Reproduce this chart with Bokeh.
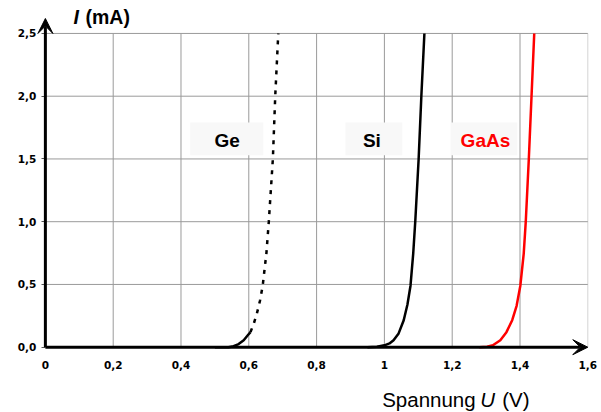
from bokeh.plotting import figure
from bokeh.models import Range1d, FixedTicker, Arrow, VeeHead, Label, ColumnDataSource
from bokeh.core.properties import value
from bokeh.embed import file_html
from bokeh.resources import INLINE

# ---- data ----
u_ticks = [0.0, 0.2, 0.4, 0.6, 0.8, 1.0, 1.2, 1.4, 1.6]
u_tick_labels = ["0", "0,2", "0,4", "0,6", "0,8", "1", "1,2", "1,4", "1,6"]
i_ticks = [0.0, 0.5, 1.0, 1.5, 2.0, 2.5]
i_tick_labels = ["0,0", "0,5", "1,0", "1,5", "2,0", "2,5"]

ge_solid_u = [0.50, 0.540, 0.555, 0.570, 0.585, 0.597, 0.605]
ge_solid_i = [0.0, 0.0, 0.008, 0.025, 0.055, 0.095, 0.120]
ge_dash_u = [0.605, 0.615, 0.624, 0.633, 0.641, 0.652, 0.659, 0.671, 0.678, 0.687]
ge_dash_i = [0.120, 0.19, 0.27, 0.37, 0.49, 0.75, 1.0, 1.5, 2.0, 2.5]

si_u = [0.95, 0.978, 1.000, 1.015, 1.027, 1.042, 1.057, 1.068, 1.077, 1.085, 1.091, 1.101, 1.109, 1.118]
si_i = [0.0, 0.003, 0.015, 0.030, 0.056, 0.110, 0.215, 0.340, 0.49, 0.746, 1.0, 1.5, 2.0, 2.5]

gaas_u = [1.28, 1.303, 1.320, 1.342, 1.360, 1.377, 1.390, 1.401, 1.411, 1.417, 1.426, 1.434, 1.442]
gaas_i = [0.0, 0.003, 0.015, 0.056, 0.120, 0.215, 0.330, 0.49, 0.746, 1.0, 1.5, 2.0, 2.5]

materials = ["Ge", "Si", "GaAs"]
material_colors = ["#000000", "#000000", "#ff0000"]

# ---- figure: the frame covers the whole canvas, axes are fixed at 0 ----
p = figure(width=601, height=412, output_backend="svg", toolbar_location=None,
           x_range=Range1d(-0.1324, 1.6404), y_range=Range1d(-0.5203, 2.7625),
           min_border_left=0, min_border_right=0, min_border_top=0, min_border_bottom=0)
p.outline_line_color = None
p.xgrid.visible = False
p.ygrid.visible = False
p.background_fill_color = "white"
p.border_fill_color = "white"

p.xaxis.fixed_location = 0
p.yaxis.fixed_location = 0
p.xaxis.ticker = FixedTicker(ticks=u_ticks)
p.xaxis.major_label_overrides = {t: l for t, l in zip(u_ticks, u_tick_labels)}
p.yaxis.ticker = FixedTicker(ticks=i_ticks)
p.yaxis.major_label_overrides = {t: l for t, l in zip(i_ticks, i_tick_labels)}
for ax in (p.xaxis, p.yaxis):
    ax.axis_line_color = None
    ax.minor_tick_line_color = None
    ax.major_label_text_font = "DejaVu Sans"
    ax.major_label_text_font_style = "bold"
    ax.major_label_text_font_size = "10.5px"
    ax.major_label_text_color = "#000000"
p.xaxis.major_tick_out = 0
p.xaxis.major_tick_in = 0
p.xaxis.major_tick_line_color = None
p.xaxis.major_label_standoff = 14
p.yaxis.major_tick_out = 4
p.yaxis.major_tick_in = 0
p.yaxis.major_tick_line_color = "#555555"
p.yaxis.major_label_standoff = 5

# grid lines (bounded to the data area)
grid_color = "#9a9a9a"
p.segment(x0=u_ticks[1:-1], y0=0, x1=u_ticks[1:-1], y1=i_ticks[-1], line_color=grid_color, line_width=1)
p.segment(x0=u_ticks[-1:], y0=0, x1=u_ticks[-1:], y1=i_ticks[-1], line_color="#d4d4d4", line_width=1)
p.segment(x0=0, y0=i_ticks[1:], x1=u_ticks[-1], y1=i_ticks[1:], line_color=grid_color, line_width=1)

# label background boxes
p.quad(left=[0.427, 0.885, 1.195], right=[0.643, 1.053, 1.392], bottom=1.53, top=1.79,
       fill_color="#f8f8f8", line_color=None)

# curves
p.line(ge_solid_u, ge_solid_i, line_color="black", line_width=2.5)
p.line(ge_dash_u, ge_dash_i, line_color="black", line_width=2.5, line_dash="4 6")
p.line(si_u, si_i, line_color="black", line_width=2.5)
p.line(gaas_u, gaas_i, line_color="#ff0000", line_width=2.5)

# material labels
src = ColumnDataSource(dict(x=[0.536, 0.963, 1.298], y=[1.648, 1.648, 1.648],
                            text=materials, color=material_colors))
p.text(x="x", y="y", text="text", text_color="color", source=src,
       text_font=value("Liberation Sans"), text_font_style="bold", text_font_size="19px",
       text_align="center", text_baseline="middle")

# axis arrows
p.add_layout(Arrow(end=VeeHead(size=15, fill_color="black", line_color="black", line_width=1),
                   x_start=0, y_start=0, x_end=u_ticks[-1], y_end=0,
                   line_width=3, line_color="black"))
p.add_layout(Arrow(end=VeeHead(size=15, fill_color="black", line_color="black", line_width=1),
                   x_start=0, y_start=0, x_end=0, y_end=2.619,
                   line_width=3, line_color="black"))

# axis titles
p.add_layout(Label(x=0.0829, y=2.582, y_offset=6, text="I", text_font="Liberation Sans",
                   text_color="black", text_font_style="bold italic", text_font_size="19.5px",
                   text_baseline="alphabetic", text_align="left"))
p.add_layout(Label(x=0.0829, y=2.582, x_offset=12, y_offset=6, text="(mA)",
                   text_font="Liberation Sans", text_color="black", text_font_style="bold",
                   text_font_size="19.5px", text_baseline="alphabetic", text_align="left"))

p.add_layout(Label(x=0.9935, y=-0.478, y_offset=8, text="Spannung", text_font="Liberation Sans",
                   text_color="black", text_font_size="20.5px",
                   text_baseline="alphabetic", text_align="left"))
p.add_layout(Label(x=0.9935, y=-0.478, x_offset=98, y_offset=8, text="U",
                   text_font="Liberation Sans", text_color="black", text_font_style="italic",
                   text_font_size="20.5px", text_baseline="alphabetic", text_align="left"))
p.add_layout(Label(x=0.9935, y=-0.478, x_offset=120, y_offset=8, text="(V)",
                   text_font="Liberation Sans", text_color="black", text_font_size="20.5px",
                   text_baseline="alphabetic", text_align="left"))

open("out.html", "w").write(file_html(p, INLINE))
